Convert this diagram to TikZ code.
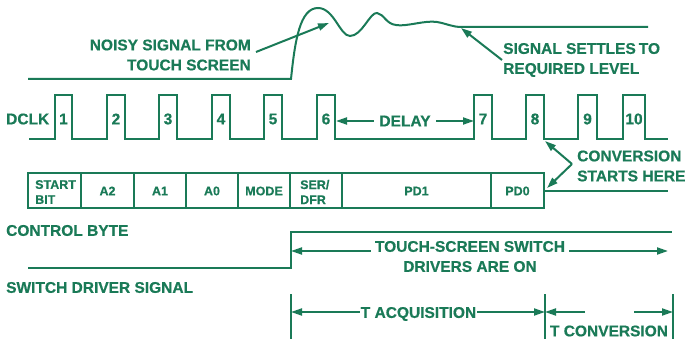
\documentclass[tikz,border=0pt]{standalone}
\usepackage{fontspec}
\setmainfont{Liberation Sans}[BoldFont={Liberation Sans Bold}]
\newfontfamily\lb{Liberation Sans}[UprightFont={* Bold}, FakeBold=0.6]
\usetikzlibrary{arrows.meta}
\definecolor{adg}{RGB}{26,122,87}
\tikzset{
  sig/.style={draw=adg, line width=2pt, line join=miter},
  thin/.style={draw=adg, line width=1.3pt},
  arr/.style={draw=adg, line width=2pt, -{Triangle[length=11pt,width=7pt]}},
  lbl/.style={text=adg, font=\lb\fontsize{15.5}{19}\selectfont, inner sep=0pt},
  lblw/.style={lbl, fill=white, inner sep=5pt},
  bx/.style={text=adg, font=\lb\fontsize{12.5}{15}\selectfont, inner sep=0pt, align=left},
}
\begin{document}
\begin{tikzpicture}[x=1pt,y=-1pt]
\useasboundingbox (0,0) rectangle (685,339);
% noisy signal
\draw[sig] (28,79) -- (291,79) .. controls (295,40) and (300,8) .. (318,8)
  .. controls (334,8) and (340,36) .. (350,36)
  .. controls (362,36) and (370,12) .. (377,13)
  .. controls (384,14) and (386,24) .. (396,25)
  .. controls (406,27) and (425,20) .. (437,22)
  .. controls (448,24) and (452,27) .. (462,27) -- (648,27);
\node[lbl, align=right, anchor=east] (noisy) at (251,55) {NOISY SIGNAL FROM\\[1pt]TOUCH SCREEN};
\coordinate (noisyS) at (256,52);
\coordinate (noisyT) at (329,23);
\draw[arr] (noisyS) -- (noisyT);
\node[lbl, align=left, anchor=west] (settle) at (503,60) {SIGNAL SETTLES\hspace{3pt}TO\\[1pt]REQUIRED LEVEL};
\coordinate (settleS) at (502,60);
\coordinate (settleT) at (461,28);
\draw[arr] (settleS) -- (settleT);
% DCLK
\node[lbl, anchor=west] (dclk) at (6,119) {DCLK};
\draw[sig] (29,139) -- (55,139) -- (55,95) -- (72,95) -- (72,139)
  -- (107,139) -- (107,95) -- (125,95) -- (125,139)
  -- (159,139) -- (159,95) -- (177,95) -- (177,139)
  -- (212,139) -- (212,95) -- (230,95) -- (230,139)
  -- (264,139) -- (264,95) -- (282,95) -- (282,139)
  -- (317,139) -- (317,95) -- (335,95) -- (335,139)
  -- (474,139) -- (474,95) -- (492,95) -- (492,139)
  -- (526,139) -- (526,95) -- (544,95) -- (544,139)
  -- (578,139) -- (578,95) -- (597,95) -- (597,139)
  -- (623,139) -- (623,95) -- (645,95) -- (645,139) -- (668,139);
\foreach \x/\n in {63.5/1,116/2,168/3,221/4,273/5,326/6,483/7,535/8,587.5/9,634/10}
  \node[lbl] (n\n) at (\x,119) {\n};
\coordinate (d1) at (336,121);
\coordinate (d2) at (474,121);
\draw[arr, {Triangle[length=11pt,width=7pt]}-{Triangle[length=11pt,width=7pt]}] (d1) -- (d2);
\node[lblw] (delay) at (405,121) {DELAY};
% control byte
\draw[sig] (28,173) rectangle (544,208);
\foreach \x in {81,134,186,238,290,342,491} \draw[sig] (\x,173) -- (\x,208);
\draw[sig] (544,191) -- (668,191);
\node[bx, anchor=west] (start) at (35,192) {START\\BIT};
\node[bx] (a2) at (107.5,191) {A2};
\node[bx] (a1) at (160,191) {A1};
\node[bx] (a0) at (212,191) {A0};
\node[bx] (mode) at (264,191) {MODE};
\node[bx, anchor=west] (ser) at (300,192) {SER/\\DFR};
\node[bx] (pd1) at (416.5,191) {PD1};
\node[bx] (pd0) at (517.5,191) {PD0};
\node[lbl, anchor=west, align=left] (conv) at (577,166) {CONVERSION\\[1pt]STARTS HERE};
\coordinate (cv) at (572,164);
\coordinate (cv1) at (545,141);
\coordinate (cv2) at (547,188);
\draw[arr] (cv) -- (cv1);
\draw[arr] (cv) -- (cv2);
\node[lbl, anchor=west] (cb) at (6,230.5) {CONTROL BYTE};
% switch driver
\draw[sig] (28,268) -- (291,268) -- (291,232) -- (672,232);
\coordinate (s1) at (291,251);
\coordinate (s2) at (668,251);
\draw[arr, {Triangle[length=11pt,width=7pt]}-{Triangle[length=11pt,width=7pt]}] (s1) -- (s2);
\node[lblw, align=center, inner sep=4pt] (drv) at (470,256.5) {TOUCH-SCREEN SWITCH\\[1pt]DRIVERS ARE ON};
\node[lbl, anchor=west] (sds) at (6,287.5) {SWITCH DRIVER SIGNAL};
% timing
\coordinate (t1a) at (291,294); \coordinate (t1b) at (291,339);
\coordinate (t2a) at (545,294); \coordinate (t2b) at (545,339);
\coordinate (t3a) at (673,294); \coordinate (t3b) at (673,339);
\draw[thin] (t1a) -- (t1b);
\draw[thin] (t2a) -- (t2b);
\draw[thin] (t3a) -- (t3b);
\coordinate (a1l) at (291,312); \coordinate (a1r) at (545,312);
\draw[arr, {Triangle[length=11pt,width=7pt]}-{Triangle[length=11pt,width=7pt]}] (a1l) -- (a1r);
\node[lbl, fill=white, inner xsep=1pt, inner ysep=3pt] (tacq) at (418.5,314) {T ACQUISITION};
\coordinate (c1s) at (585,312); \coordinate (c1t) at (545,312);
\coordinate (c2s) at (634,312); \coordinate (c2t) at (673,312);
\draw[arr] (c1s) -- (c1t);
\draw[arr] (c2s) -- (c2t);
\node[lbl] (tconv) at (609,331) {T CONVERSION};
\end{tikzpicture}
\end{document}
